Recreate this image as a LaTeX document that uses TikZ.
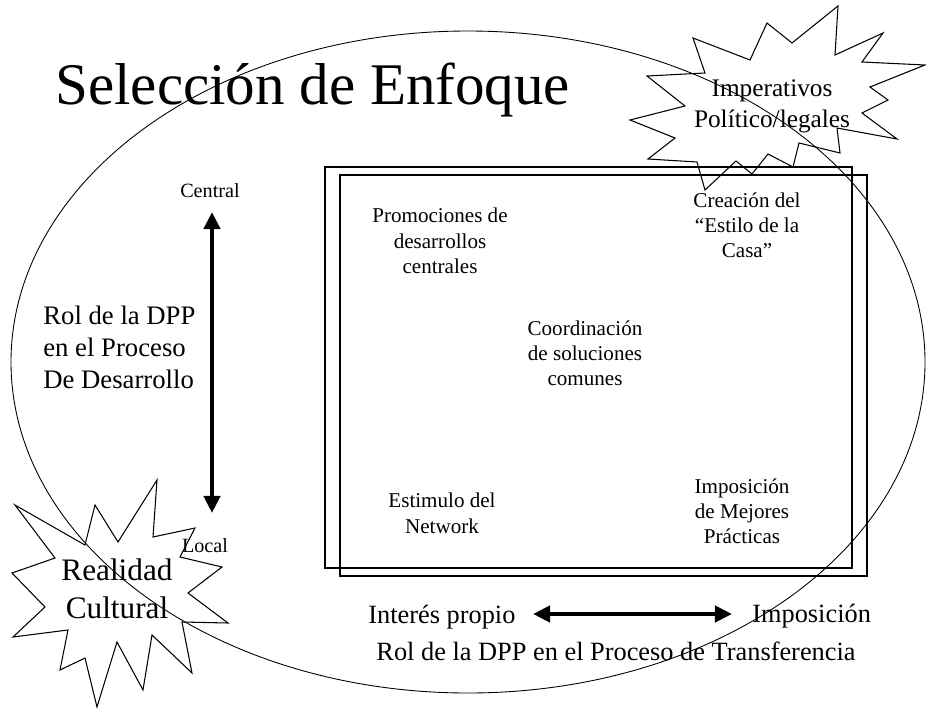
\documentclass[tikz,border=0pt]{standalone}
\usepackage{fontspec}
\setmainfont{Liberation Serif}
\usetikzlibrary{arrows.meta,positioning}
\tikzset{
  frame/.style={draw, line width=0.75pt},
  burst/.style={draw, line width=0.6pt, line join=miter},
  edge/.style={{Triangle[length=9.7pt,width=9.1pt]}-{Triangle[length=9.7pt,width=9.1pt]}, line width=2.6pt},
  cell/.style={inner sep=0pt, align=center, font=\fontsize{12}{14.5}\selectfont},
  axislbl/.style={inner sep=0pt, font=\fontsize{11.5}{13}\selectfont},
  side/.style={inner sep=0pt, font=\fontsize{15}{18}\selectfont},
  heading/.style={inner sep=0pt, font=\fontsize{33.6}{40}\selectfont}
}
\begin{document}
\begin{tikzpicture}[x=0.02cm, y=-0.02cm]
    \useasboundingbox (0,0) rectangle (926,710);
    % Frames
    \draw[frame] (325,167) rectangle (852,568);
    \draw[frame] (340,175) rectangle (867,576);
    % Bursts
    \draw[burst] (838,6) -- (835,55) -- (883,33) -- (862,62) -- (925,65) -- (870,87)
      -- (888,100) -- (862,113) -- (897,139) -- (837,128) -- (840,153) -- (799,143)
      -- (793,167) -- (768,154) -- (752,174) -- (736,161) -- (705,190) -- (697,162)
      -- (648,159) -- (675,138) -- (630,120) -- (685,106) -- (647,76) -- (705,73)
      -- (693,38) -- (750,60) -- (767,23) -- (792,43) -- cycle;
    \draw[burst] (15,505) -- (55,558) -- (12,573) -- (45,607) -- (13,637) -- (68,630)
      -- (60,670) -- (85,658) -- (97,707) -- (117,642) -- (143,690) -- (152,635)
      -- (192,673) -- (182,622) -- (228,623) -- (188,593) -- (222,567) -- (180,557)
      -- (195,528) -- (153,537) -- (157,480) -- (118,542) -- (95,505) -- (85,545) -- cycle;
    % Oval
    \draw[line width=0.5pt] (468,362) ellipse [x radius=457, y radius=331];
    % Nodes
    \node[heading, anchor=base west] (title) at (55,104) {Selección de Enfoque};
    \node[inner sep=0pt, align=center, anchor=north, font=\fontsize{14.4}{17.6}\selectfont] (imperativos) at (772,79) {Imperativos\\Político/legales};
    \node[inner sep=0pt, align=center, anchor=north, font=\fontsize{17.8}{21.6}\selectfont] (realidad) at (117,558) {Realidad\\Cultural};
    \node[inner sep=0pt, align=left, anchor=north west, font=\fontsize{15.2}{18.2}\selectfont] (rolv) at (43,306) {Rol de la DPP\\en el Proceso\\De Desarrollo};
    \node[axislbl, anchor=base] (central) at (210,197) {Central};
    \node[axislbl, anchor=base] (local) at (205,552) {Local};
    \node[cell, anchor=north] (promo) at (440,208) {Promociones de\\desarrollos\\centrales};
    \node[cell, anchor=north] (creacion) at (747,192) {Creación del\\“Estilo de la\\Casa”};
    \node[cell, anchor=north] (coord) at (585,320) {Coordinación\\de soluciones\\comunes};
    \node[cell, anchor=north] (estimulo) at (442,493) {Estimulo del\\Network};
    \node[cell, anchor=north] (mejores) at (742,478) {Imposición\\de Mejores\\Prácticas};
    \node[side, anchor=base west] (interes) at (368,623) {Interés propio};
    \node[side, anchor=base west] (imposicion) at (752,622) {Imposición};
    \node[side, anchor=base] (rolh) at (616,660) {Rol de la DPP en el Proceso de Transferencia};
    % Axes
    \coordinate (vtop) at (212,212);
    \coordinate (vbot) at (212,513);
    \coordinate (hleft) at (533,614);
    \coordinate (hright) at (732,614);
    \draw[edge] (vtop) -- (vbot);
    \draw[edge] (hleft) -- (hright);
\end{tikzpicture}
\end{document}
